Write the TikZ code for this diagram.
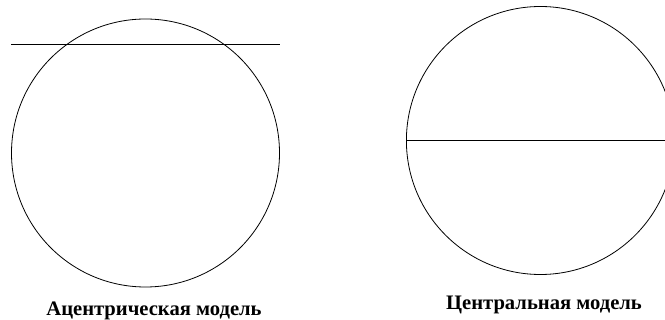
\documentclass[tikz,border=0pt]{standalone}
\usepackage{fontspec}
\setmainfont{Liberation Serif}
\usetikzlibrary{positioning}
\begin{document}
\begin{tikzpicture}[x=1pt,y=-1pt,
  ring/.style={draw,circle,line width=0.8pt,minimum size=268pt,inner sep=0pt},
  chord/.style={line width=0.8pt},
  caption/.style={font=\bfseries\fontsize{20.6}{24}\selectfont,anchor=base}
]
\useasboundingbox (0,0) rectangle (665,320);
% ацентрическая модель
\node[ring] (acirc) at (145.5,153) {};
\coordinate (aleft) at (11,44);
\coordinate (aright) at (280,44);
\draw[chord] (aleft) -- (aright);
\node[caption] (acap) at (154,316) {Ацентрическая модель};
% центральная модель
\node[ring] (ccirc) at (540.4,140.5) {};
\draw[chord] (ccirc.west) -- (ccirc.east);
\node[caption] (ccap) at (544,310) {Центральная модель};
\end{tikzpicture}
\end{document}
